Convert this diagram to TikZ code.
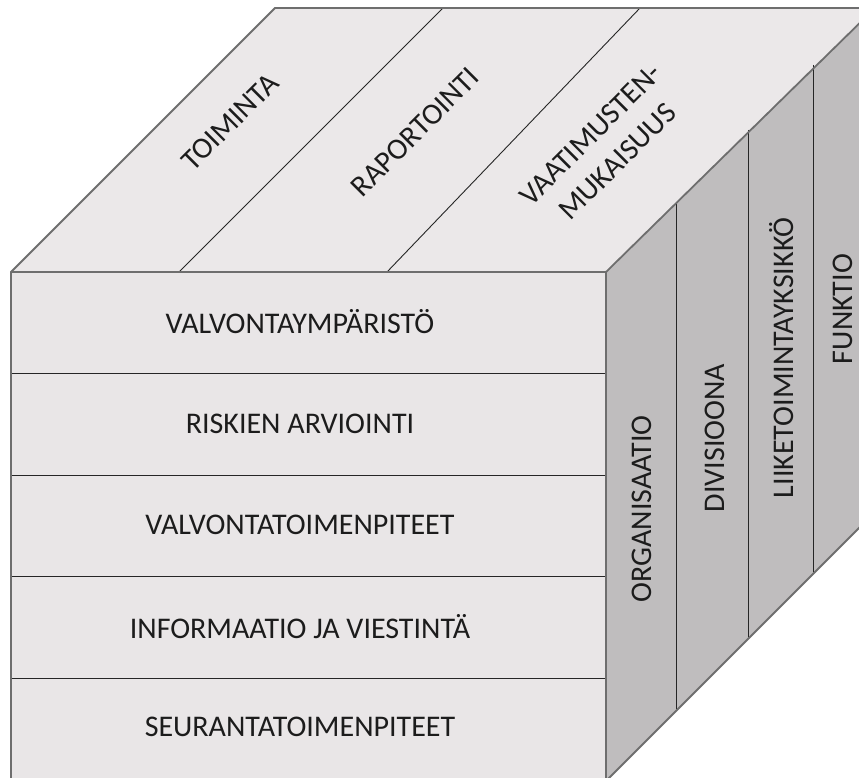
\documentclass[tikz,border=0pt]{standalone}
\usepackage{fontspec}
\setmainfont{Carlito}
\definecolor{topc}{HTML}{EBE8E9}
\definecolor{frontc}{HTML}{E9E6E7}
\definecolor{sidec}{HTML}{BFBDBE}
\definecolor{edgec}{HTML}{6E6E6E}
\definecolor{txtc}{HTML}{1C1C1C}
\tikzset{
  outer/.style={draw=edgec, line width=1.8pt, line join=miter},
  divider/.style={draw=black!85, line width=0.9pt},
  lbl/.style={font=\fontsize{30}{38}\selectfont, text=txtc, inner sep=0pt, align=center},
}
\begin{document}
\begin{tikzpicture}[x=1pt,y=-1pt]
\useasboundingbox (0,0) rectangle (859,778);
\clip (0,0) rectangle (859,778);
% corner coordinates
\coordinate (FTL) at (11,272);
\coordinate (FTR) at (606,272);
\coordinate (FBL) at (11,781);
\coordinate (FBR) at (606,781);
\coordinate (BTL) at (275,8);
\coordinate (BTR) at (875,8);
\coordinate (BBR) at (875,512);
% faces
\fill[topc] (FTL) -- (BTL) -- (BTR) -- (FTR) -- cycle;
\fill[frontc] (FTL) rectangle (FBR);
\fill[sidec] (FTR) -- (BTR) -- (BBR) -- (FBR) -- cycle;
% top dividers
\coordinate (t1a) at (179,272); \coordinate (t1b) at (443,8);
\coordinate (t2a) at (387,272); \coordinate (t2b) at (640,8);
\draw[divider] (t1a) -- (t1b);
\draw[divider] (t2a) -- (t2b);
% front dividers
\foreach \y/\n in {373.5/a,475/b,576.5/c,678/d}{
  \coordinate (fl\n) at (11,\y); \coordinate (fr\n) at (606,\y);
  \draw[divider] (fl\n) -- (fr\n);
}
% side dividers
\foreach \x/\n in {676/a,748/b,813/c}{
  \coordinate (st\n) at (\x,{272-(\x-606)}); \coordinate (sb\n) at (\x,{779-(\x-606)});
  \draw[divider] (st\n) -- (sb\n);
}
% outlines
\draw[outer] (FBL) -- (FTL) -- (BTL) -- (BTR);
\draw[outer] (FTL) -- (FTR) -- (BTR);
\draw[outer] (FTR) -- (FBR);
\draw[outer] (FBR) -- (BBR);
% front labels
\node[lbl] (r1) at (300,322) {VALVONTAYMPÄRISTÖ};
\node[lbl] (r2) at (300,424) {RISKIEN ARVIOINTI};
\node[lbl] (r3) at (300,525) {VALVONTATOIMENPITEET};
\node[lbl] (r4) at (300,627) {INFORMAATIO JA VIESTINTÄ};
\node[lbl] (r5) at (300,727) {SEURANTATOIMENPITEET};
% top labels
\node[lbl, rotate=45] (c1) at (230,122) {TOIMINTA};
\node[lbl, rotate=45] (c2) at (415,132) {RAPORTOINTI};
\node[lbl, rotate=45] (c3) at (604,148) {VAATIMUSTEN-\\MUKAISUUS};
% side labels
\node[lbl, rotate=90] (s1) at (642,509) {ORGANISAATIO};
\node[lbl, rotate=90] (s2) at (715,438) {DIVISIOONA};
\node[lbl, rotate=90] (s3) at (782,358) {LIIKETOIMINTAYKSIKKÖ};
\node[lbl, rotate=90] (s4) at (843,309) {FUNKTIO};
\end{tikzpicture}
\end{document}
